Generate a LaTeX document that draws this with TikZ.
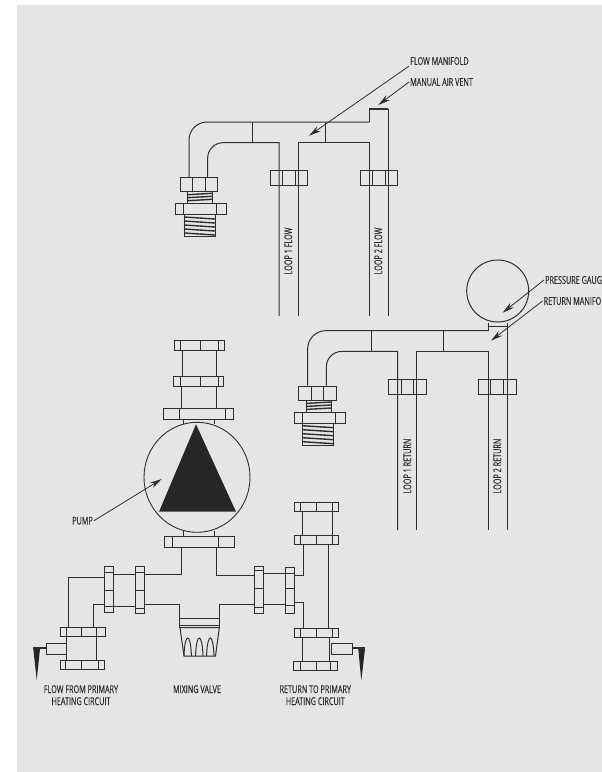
\documentclass[tikz,border=0pt]{standalone}
\usepackage{fontspec}
\setmainfont[FakeStretch=0.67,FakeBold=0.25]{Open Sans}
\usepackage{tikz}
\usetikzlibrary{arrows.meta}
\definecolor{panelgrey}{HTML}{E4E5E7}
\definecolor{inkgrey}{HTML}{2E2E2E}
\newcommand{\hflange}[5]{\draw[fitting] (#1,#2) rectangle (#3,#4);
    \foreach \xi in {#5} \draw[fitting] (\xi,#2) -- (\xi,#4);}
\newcommand{\vflange}[5]{\draw[fitting] (#1,#2) rectangle (#3,#4);
    \foreach \yi in {#5} \draw[fitting] (#1,\yi) -- (#3,\yi);}
\begin{document}
\begin{tikzpicture}[x=1pt,y=-1pt,
    pipe/.style={draw=inkgrey,line width=1pt},
    fitting/.style={draw=inkgrey,line width=1pt},
    screw/.style={draw=inkgrey,line width=1.4pt},
    leader/.style={draw=inkgrey,line width=0.8pt,-{Stealth[length=12pt,width=6pt]}},
    lbl/.style={inner sep=1pt,text=inkgrey,font=\fontsize{10.8}{12}\selectfont},
    looplbl/.style={lbl,rotate=90},
    caption/.style={lbl,align=center,anchor=north}]
    \useasboundingbox (0,0) rectangle (602,772);
    \fill[panelgrey] (17,5) rectangle (602,772);

    % the two manifolds are the same apart from their top right end
    \foreach \dx/\dy/\yend in {0/0/316,118.7/208.7/321.3} {
    \begin{scope}[shift={(\dx,\dy)}]
        \draw[pipe] (189,177) -- (189,140) arc[start angle=180,end angle=270,radius=18] -- (369.3,122);
        \draw[pipe] (207.7,177) -- (207.7,158) arc[start angle=180,end angle=270,radius=15.3] -- (279,142.7) -- (279,\yend);
        \draw[pipe] (298,\yend) -- (298,142.7) -- (369.3,142.7) -- (369.3,\yend);
        \draw[pipe] (388.3,122) -- (388.3,\yend);
        \draw[pipe] (252.3,122) -- (252.3,142.7);
        \draw[pipe] (325,122) -- (325,142.7);
        \hflange{270}{170.7}{307.3}{185.3}{282.3,295}
        \hflange{360}{170.7}{397.3}{185.3}{372,385}
        \hflange{180}{177.3}{217.3}{191.7}{192.3,205}
        \hflange{175.7}{203.3}{226.3}{214.7}{183.3,216.7}
        \draw[fitting] (187.7,191.7) -- (187.7,203.3) (212.3,191.7) -- (212.3,203.3);
        \draw[fitting] (184,214.7) -- (184,236.7) -- (215,236.7) -- (215,214.7);
        \foreach \yt in {194,197,200}
            \draw[screw] (187.7,\yt+0.7) -- (212.3,\yt-0.7);
        \foreach \yt in {218,222,226,230,234}
            \draw[screw] (184,\yt-1) -- (215,\yt+1);
    \end{scope}
    }
    \draw[fitting] (369.3,122) -- (369.3,109) -- (388.3,109) -- (388.3,122);
    \draw[line width=1.8pt,draw=inkgrey] (369.3,109) -- (388.3,109);
    \draw[pipe] (488,331) -- (488,322.7) (507,331) -- (507,322.7) (488,326.5) -- (507,326.5);
    \node[circle,draw=inkgrey,line width=1pt,minimum size=62pt,inner sep=0pt] (gauge) at (497.7,291) {};

    % pump and its flanges
    \hflange{174.3}{340}{224.3}{350.3}{180,200,218.3}
    \hflange{173.7}{376.7}{223.3}{386.3}{180,200,218.3}
    \hflange{163}{408.3}{233.3}{419.3}{179,225}
    \hflange{164}{536}{234.3}{547.3}{172.3,218.3}
    \draw[pipe] (182.7,350.3) -- (182.7,376.7) (216,350.3) -- (216,376.7);
    \draw[pipe] (181,386.3) -- (181,408.3) (216.7,386.3) -- (216.7,408.3);
    \draw[pipe] (183.3,419.3) -- (183.3,423.5) (214.3,419.3) -- (214.3,423.5);
    \draw[pipe] (183.3,531) -- (183.3,536) (214.3,531) -- (214.3,536);
    \draw[draw=inkgrey,line width=0.9pt] (197,477.3) ellipse[x radius=53,y radius=55];
    \fill[black!85] (196,424.3) -- (236,511.7) -- (159,511.7) -- cycle;

    % left branch
    \draw[pipe] (181.7,547.3) -- (181.7,574.7) -- (144,574.7);
    \draw[pipe] (144,604.7) -- (179,604.7) -- (179,627.7);
    \vflange{135}{566.7}{144}{613.3}{572.7,590.7,608.3}
    \vflange{104}{566}{113}{612.7}{572.7,590.7,606.7}
    \draw[pipe] (113,574.7) -- (135,574.7) (113,606) -- (135,606);
    \draw[pipe] (104,577.7) -- (68.3,577.7) -- (68.3,627.7);
    \draw[pipe] (104,604.3) -- (93.7,604.3) -- (93.7,627.7);
    \hflange{60.3}{627.7}{105}{636.7}{66.7,81,96.7}
    \hflange{60}{660.3}{104.3}{669.3}{65.7,81,98.3}
    \draw[pipe] (66.7,636.7) -- (66.7,660.3) (96,636.7) -- (96,660.3);
    \draw[fitting] (46,643.3) rectangle (66.7,654);
    \draw[line width=2pt,draw=inkgrey] (46,648.3) -- (33.3,648.3);
    \fill[black!85] (33.3,649) -- (40,649) -- (36.7,680) -- cycle;

    % right branch
    \hflange{294}{502.7}{338.3}{511.7}{300.7,316.7,332.7}
    \hflange{294}{535.7}{338}{544.3}{300.7,316.7,332.7}
    \draw[pipe] (302.3,511.7) -- (302.3,535.7) (332.3,511.7) -- (332.3,535.7);
    \draw[pipe] (303.3,544.3) -- (303.3,575.3) -- (294.3,575.3);
    \draw[pipe] (328.3,544.3) -- (328.3,628.3);
    \draw[pipe] (294.3,602.3) -- (303.3,602.3) -- (303.3,628.3);
    \vflange{254.3}{566.7}{263.3}{613.3}{570.7,588.7,607.3}
    \vflange{285.7}{567.3}{294.3}{613.3}{573.3,588.7,605}
    \draw[pipe] (263.3,573.3) -- (285.7,573.3) (263.3,604.7) -- (285.7,604.7);
    \draw[pipe] (216.7,547.3) -- (216.7,575) -- (254.3,575);
    \draw[pipe] (254.3,604.7) -- (219.3,604.7) -- (219.3,627.7);
    \hflange{294}{628.3}{338}{637.3}{300,316.7,332.7}
    \hflange{293}{661}{337.3}{670}{300,316.7,330.7}
    \draw[pipe] (302,637.3) -- (302,661) (329.3,637.3) -- (329.3,661);
    \draw[fitting] (331.7,643.7) rectangle (352.3,654.3);
    \draw[line width=2pt,draw=inkgrey] (352.3,648.3) -- (365,648.3);
    \fill[black!85] (358.3,649) -- (365,649) -- (361.3,680.7) -- cycle;

    % mixing valve
    \draw[pipe] (179,618.3) -- (219.3,618.3) (179,625.7) -- (219.3,625.7);
    \draw[pipe] (180,627.7) -- (184,656) -- (215.5,656) -- (219.3,627.7) -- cycle;
    \foreach \xv in {187.7,199.3,210.3}
        \draw[pipe] (\xv-3.7,656) .. controls (\xv-3,632) and (\xv+3,632) .. (\xv+3.7,656);

    % labels
    \node[lbl,anchor=west] (flowlbl) at (409,61) {FLOW MANIFOLD};
    \node[lbl,anchor=west] (ventlbl) at (409,82) {MANUAL AIR VENT};
    \node[lbl,anchor=west] (gaugelbl) at (544,280) {PRESSURE GAUG};
    \node[lbl,anchor=west] (returnlbl) at (542.5,301) {RETURN MANIFO};
    \node[lbl] (pumplbl) at (82.5,520.7) {PUMP};
    \node[looplbl] (loopa) at (288.3,251) {LOOP 1 FLOW};
    \node[looplbl] (loopb) at (378.3,251) {LOOP 2 FLOW};
    \node[looplbl] (loopc) at (407.3,466) {LOOP 1 RETURN};
    \node[looplbl] (loopd) at (497.3,466) {LOOP 2 RETURN};
    \node[caption] (fromlbl) at (81,684) {FLOW FROM PRIMARY\\HEATING CIRCUIT};
    \node[caption] (valvelbl) at (197,684) {MIXING VALVE};
    \node[caption] (tolbl) at (315.3,684) {RETURN TO PRIMARY\\HEATING CIRCUIT};

    \coordinate (flowtip) at (309,135.7);
    \coordinate (venttip) at (378.3,105);
    \coordinate (gaugetip) at (502.7,312.7);
    \coordinate (returntip) at (491,340.7);
    \coordinate (pumptip) at (161.7,479);
    \draw[leader] (flowlbl.south west) -- (flowtip);
    \draw[leader] (ventlbl.west) -- (venttip);
    \draw[leader] (gaugelbl.west) -- (gaugetip);
    \draw[leader] (returnlbl.west) -- (returntip);
    \draw[leader] (pumplbl.east) -- (pumptip);
\end{tikzpicture}
\end{document}
